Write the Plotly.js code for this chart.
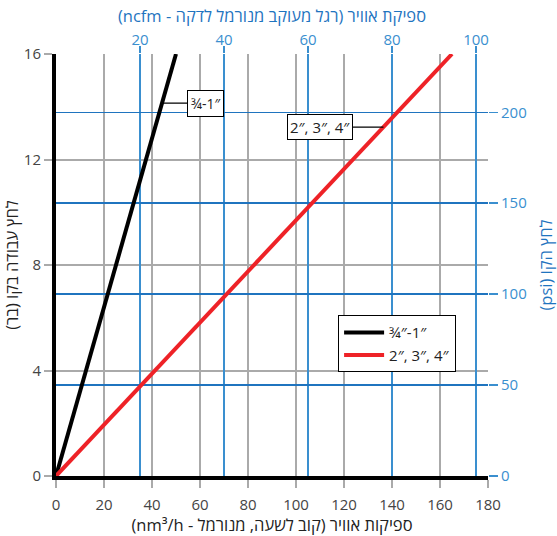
<!DOCTYPE html>
<html>
<head>
<meta charset="utf-8">
<script src="https://cdn.plot.ly/plotly-3.0.1.min.js"></script>
<style>html,body{margin:0;padding:0;background:#fff}#chart{width:557px;height:536px}</style>
</head>
<body>
<div id="chart"></div>
<script>
// Data
const seriesNames = ["¾″-1″", "2″, 3″, 4″"];
const pressureBar = [0, 16];
const flowSmall = [0, 50];      // nm3/h for 3/4"-1"
const flowLarge = [0, 165];     // nm3/h for 2", 3", 4"
const xTicks = [0, 20, 40, 60, 80, 100, 120, 140, 160, 180];
const yTicks = [0, 4, 8, 12, 16];
const ncfmTicks = [20, 40, 60, 80, 100];
const psiTicks = [0, 50, 100, 150, 200];
const NM3H_PER_NCFM = 1.75;
const PSI_PER_BAR = 14.5038;

const FONT = '"Open Sans", "DejaVu Sans", sans-serif';
const GRAY = '#aaaaaa';
const TXT = '#444444';
const BLUE = '#3a8fcf';
const BLUE_DARK = '#1f74bf';

function xAt(flows, pres, p) {
  return flows[0] + (flows[1] - flows[0]) * (p - pres[0]) / (pres[1] - pres[0]);
}

const traces = [
  {x: flowSmall, y: pressureBar, type: 'scatter', mode: 'lines', name: seriesNames[0],
   line: {color: '#000000', width: 4}},
  {x: flowLarge, y: pressureBar, type: 'scatter', mode: 'lines', name: seriesNames[1],
   line: {color: '#ee2227', width: 4}},
  // invisible trace to activate secondary axes
  {x: [0, 1], y: [0, 1], xaxis: 'x2', yaxis: 'y2', mode: 'markers', marker: {opacity: 0},
   showlegend: false, hoverinfo: 'skip'}
];

const pSmall = 14.14, pLarge = 13.23;
const layout = {
  width: 557, height: 536,
  margin: {l: 56, r: 69, t: 54, b: 60},
  paper_bgcolor: '#fff', plot_bgcolor: '#fff',
  font: {family: FONT, size: 14, color: TXT},
  showlegend: true,
  legend: {x: 0.653, y: 0.381, xanchor: 'left', yanchor: 'top',
    bgcolor: '#fff', bordercolor: '#000', borderwidth: 1, itemwidth: 40,
    font: {size: 15, color: '#222'}},
  xaxis: {range: [0, 180], tickvals: xTicks, showgrid: true, gridcolor: GRAY, gridwidth: 2,
    ticks: 'outside', ticklen: 8, tickcolor: GRAY, tickwidth: 2, ticklabelstandoff: 4,
    showline: true, linecolor: '#000', linewidth: 4, zeroline: false,
    tickfont: {size: 15, color: TXT},
    title: {text: '\u202Bספיקות אוויר (קוב לשעה, מנורמל - nm³/h)\u202C', font: {size: 16.5, color: '#222'}, standoff: 10}},
  yaxis: {range: [0, 16], tickvals: yTicks, showgrid: true, gridcolor: GRAY, gridwidth: 2,
    ticks: 'outside', ticklen: 8, tickcolor: GRAY, tickwidth: 2,
    showline: true, linecolor: '#000', linewidth: 4, zeroline: false,
    tickfont: {size: 15, color: TXT},
    title: {text: '\u202Bלחץ עבודה בקו (בר)\u202C', font: {size: 16.5, color: '#222'}, standoff: 8}},
  xaxis2: {overlaying: 'x', side: 'top', range: [0, 180 / NM3H_PER_NCFM], tickvals: ncfmTicks,
    showgrid: true, gridcolor: BLUE, gridwidth: 2, zeroline: false, showline: false,
    ticks: 'outside', ticklen: 7, tickcolor: BLUE, tickwidth: 2, ticklabelstandoff: -5,
    tickfont: {size: 15, color: BLUE},
    title: {text: '\u202Bספיקת אוויר (רגל מעוקב מנורמל לדקה - ncfm)\u202C', font: {size: 16.5, color: BLUE_DARK}, standoff: 2}},
  yaxis2: {overlaying: 'y', side: 'right', range: [0, 16 * PSI_PER_BAR], tickvals: psiTicks,
    showgrid: true, gridcolor: BLUE_DARK, gridwidth: 1.5, zeroline: false, showline: false,
    ticks: 'outside', ticklen: 9, tickcolor: BLUE, tickwidth: 1.5,
    tickfont: {size: 15, color: BLUE},
    title: {text: '\u202Bלחץ הקו (psi)\u202C', font: {size: 16.5, color: BLUE_DARK}, standoff: 14}},
  annotations: [
    {x: xAt(flowSmall, pressureBar, pSmall), y: pSmall, xref: 'x', yref: 'y',
     text: '¾-1″', showarrow: true, arrowhead: 0, arrowwidth: 1.2, arrowcolor: '#000',
     ax: 43, ay: 0, bgcolor: '#fff', bordercolor: '#000', borderwidth: 1, borderpad: 3,
     font: {size: 14, color: '#222'}},
    {x: xAt(flowLarge, pressureBar, pLarge), y: pLarge, xref: 'x', yref: 'y',
     text: '2″, 3″, 4″', showarrow: true, arrowhead: 0, arrowwidth: 1.2, arrowcolor: '#000',
     ax: -63, ay: 0, bgcolor: '#fff', bordercolor: '#000', borderwidth: 1, borderpad: 2,
     font: {size: 15, color: '#222'}}
  ]
};

Plotly.newPlot('chart', traces, layout, {staticPlot: true, displayModeBar: false});
</script>
</body>
</html>
